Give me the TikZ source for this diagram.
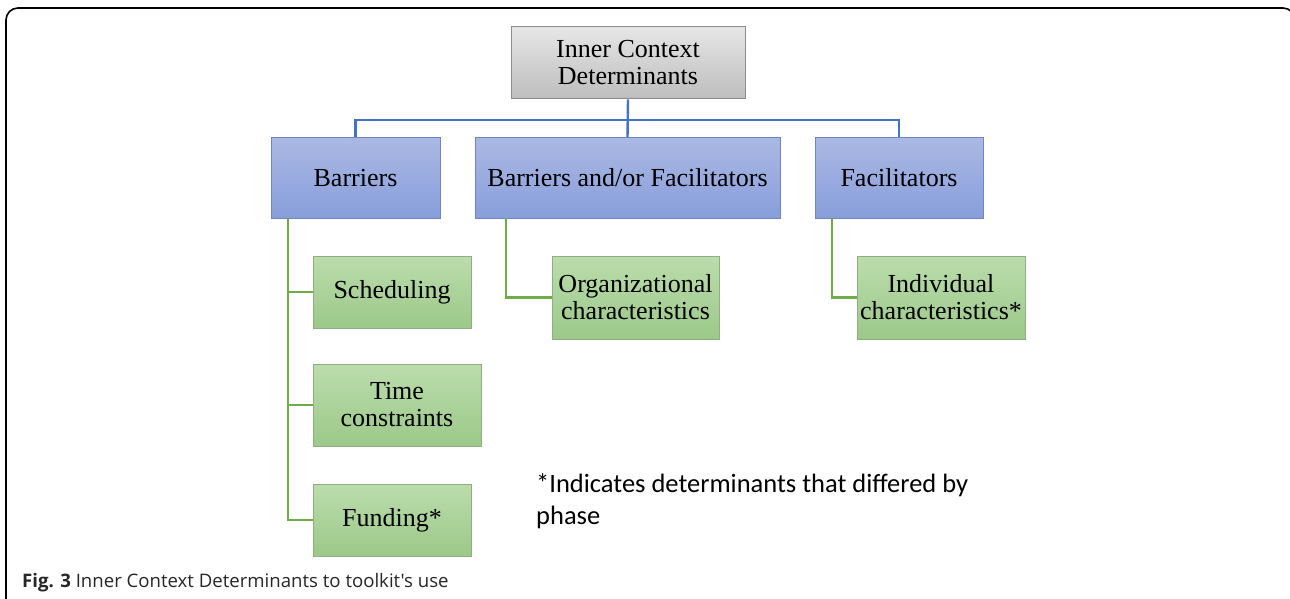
\documentclass[tikz,border=0pt]{standalone}
\usepackage{fontspec}
\setmainfont{Liberation Serif}
\newfontfamily\notefont{Carlito}
\newfontfamily\capfont{Open Sans}
\definecolor{rootedge}{HTML}{8C8C8C}
\definecolor{roottop}{HTML}{E6E6E6}
\definecolor{rootbot}{HTML}{BDBDBD}
\definecolor{blueedge}{HTML}{6F86C6}
\definecolor{bluetop}{HTML}{AAB8E3}
\definecolor{bluebot}{HTML}{889EDB}
\definecolor{greenedge}{HTML}{8FAE82}
\definecolor{greentop}{HTML}{BBDDAC}
\definecolor{greenbot}{HTML}{9CC889}
\definecolor{bluelink}{HTML}{4472C4}
\definecolor{greenlink}{HTML}{70AD47}
\tikzset{
  box/.style={draw, line width=1pt, align=center, inner sep=2pt,
    font=\fontsize{26}{27}\selectfont},
  rootbox/.style={box, draw=rootedge, top color=roottop, bottom color=rootbot},
  catbox/.style={box, draw=blueedge, top color=bluetop, bottom color=bluebot},
  leafbox/.style={box, draw=greenedge, top color=greentop, bottom color=greenbot},
  bline/.style={draw=bluelink, line width=2.4pt},
  gline/.style={draw=greenlink, line width=2.4pt}
}

\begin{document}
\begin{tikzpicture}[x=1pt,y=-1pt]
  \useasboundingbox (0,0) rectangle (1290,599);
  \clip (0,0) rectangle (1290,599);
  \draw[line width=1.6pt, rounded corners=12] (6,640) -- (6,8) -- (1295,8) -- (1295,640);

  % top of the tree
  \node[rootbox, minimum width=234, minimum height=72] (root) at (628,63) {Inner Context\\Determinants};
  \node[catbox, minimum width=169, minimum height=80] (barriers) at (355.5,178) {Barriers};
  \node[catbox, minimum width=305, minimum height=80] (both) at (627.5,178) {Barriers and/or Facilitators};
  \node[catbox, minimum width=168, minimum height=80] (facil) at (899,178) {Facilitators};

  % leaves
  \node[leafbox, minimum width=158, minimum height=72] (sched) at (392,292) {Scheduling};
  \node[leafbox, minimum width=168, minimum height=82] (time) at (397,405) {Time\\constraints};
  \node[leafbox, minimum width=158, minimum height=72] (fund) at (392,520) {Funding*};
  \node[leafbox, minimum width=167, minimum height=83] (org) at (635.5,297.5) {Organizational\\characteristics};
  \node[leafbox, minimum width=168, minimum height=83] (indiv) at (941,297.5) {Individual\\characteristics*};

  \coordinate (hub) at (628,120);
  \coordinate (btrunk) at (288,218);
  \coordinate (otrunk) at (506,218);
  \coordinate (ftrunk) at (832,218);

  \draw[bline] (root.south) -- (both.north);
  \draw[bline] (barriers.north) |- (hub) -| (facil.north);

  \draw[gline] (btrunk) |- (fund.west);
  \draw[gline] (btrunk) |- (sched.west);
  \draw[gline] (btrunk) |- (time.west);
  \draw[gline] (otrunk) |- (org.west);
  \draw[gline] (ftrunk) |- (indiv.west);

  \node[anchor=north west, align=left, inner sep=0pt, font=\notefont\fontsize{26.5}{32}\selectfont] (note) at (536,473)
    {*Indicates determinants that differed by\\phase};
  \node[anchor=west, inner sep=0pt, text=black!85, font=\capfont\fontsize{18.6}{20}\selectfont] (caption) at (22,583)
    {\textbf{Fig. 3} Inner Context Determinants to toolkit's use};
\end{tikzpicture}
\end{document}
